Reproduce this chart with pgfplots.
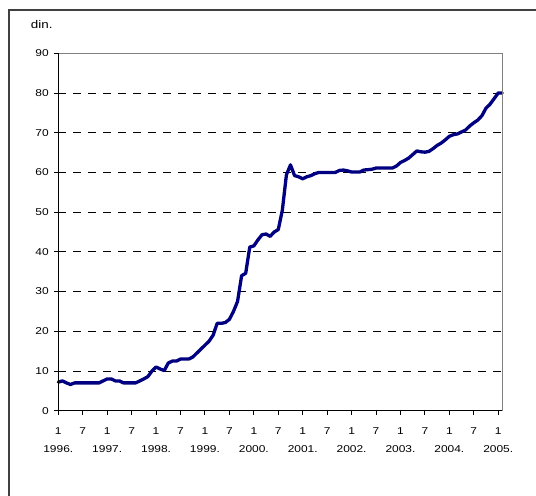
\documentclass[border=0pt]{standalone}
\usepackage{pgfplots}
\pgfplotsset{compat=1.18}
\usepackage{fontspec}
\newfontfamily\chartfont[FakeStretch=1.2]{Liberation Sans}

% monthly values, Jan 1996 (0) onwards
\pgfplotstableread{
m v
0 7.2
1 7.5
2 7.0
3 6.6
4 7.0
5 7.0
6 7.0
7 7.0
8 7.0
9 7.0
10 7.0
11 7.5
12 8.0
13 8.0
14 7.5
15 7.5
16 7.0
17 7.0
18 7.0
19 7.0
20 7.5
21 8.0
22 8.6
23 10.0
24 11.0
25 10.5
26 10.1
27 12.0
28 12.5
29 12.5
30 13.0
31 13.0
32 13.0
33 13.5
34 14.5
35 15.5
36 16.5
37 17.5
38 19.0
39 22.0
40 22.0
41 22.2
42 23.0
43 25.0
44 27.5
45 34.0
46 34.6
47 41.2
48 41.5
49 43.0
50 44.3
51 44.5
52 43.9
53 45.0
54 45.6
55 50.5
56 59.4
57 61.9
58 59.2
59 58.9
60 58.4
61 58.9
62 59.2
63 59.7
64 60.0
65 60.0
66 60.0
67 60.0
68 60.0
69 60.5
70 60.6
71 60.4
72 60.1
73 60.1
74 60.1
75 60.6
76 60.7
77 60.8
78 61.1
79 61.1
80 61.1
81 61.1
82 61.1
83 61.6
84 62.5
85 63.0
86 63.6
87 64.5
88 65.4
89 65.2
90 65.1
91 65.3
92 66.0
93 66.8
94 67.4
95 68.2
96 69.1
97 69.5
98 69.7
99 70.2
100 70.7
101 71.7
102 72.5
103 73.2
104 74.3
105 76.2
106 77.2
107 78.6
108 80.0
109 80.0
}\dintable

\begin{document}
\begin{tikzpicture}[x=1bp,y=1bp]
\useasboundingbox (0,0) rectangle (536,496);
\draw[line width=1.3bp, black!75] (9,-2) -- (9,486) -- (538,486);
\node[anchor=base west, inner sep=0pt, font=\chartfont\fontsize{11.2}{13}\selectfont] at (30.7,467.7) {din.};
\begin{axis}[
  at={(58.3bp,85.3bp)}, anchor=south west,
  scale only axis, width=444bp, height=357.4bp,
  xmin=0, xmax=109, ymin=0, ymax=90,
  axis line style={draw=none},
  clip=false,
  tick align=outside,
  xtick pos=bottom, ytick pos=left,
  major tick length=4bp,
  tick style={black, line width=0.9bp},
  ytick={0,10,...,90},
  xtick={0,6,...,108},
  xticklabels={{1\\1996.},7,{1\\1997.},7,{1\\1998.},7,{1\\1999.},7,{1\\2000.},7,{1\\2001.},7,{1\\2002.},7,{1\\2003.},7,{1\\2004.},7,{1\\2005.}},
  x tick label style={font=\chartfont\fontsize{10}{18.5}\selectfont, align=center, yshift=-9bp},
  y tick label style={font=\chartfont\fontsize{10}{12}\selectfont, xshift=-2bp},
  /pgf/number format/assume math mode=true,
  ymajorgrids,
  major grid style={black, line width=0.9bp, dash pattern=on 8bp off 7bp},
]
\addplot[color={rgb,255:red,0;green,0;blue,128}, line width=3.3bp, line join=round, line cap=round] table[x=m, y=v] {\dintable};
\draw[gray, line width=1.1bp] (rel axis cs:0,1) -- (rel axis cs:1,1) -- (rel axis cs:1,0);
\draw[black, line width=1.1bp] (rel axis cs:0,1) -- (rel axis cs:0,0) -- (rel axis cs:1,0);
\end{axis}
\end{tikzpicture}
\end{document}
